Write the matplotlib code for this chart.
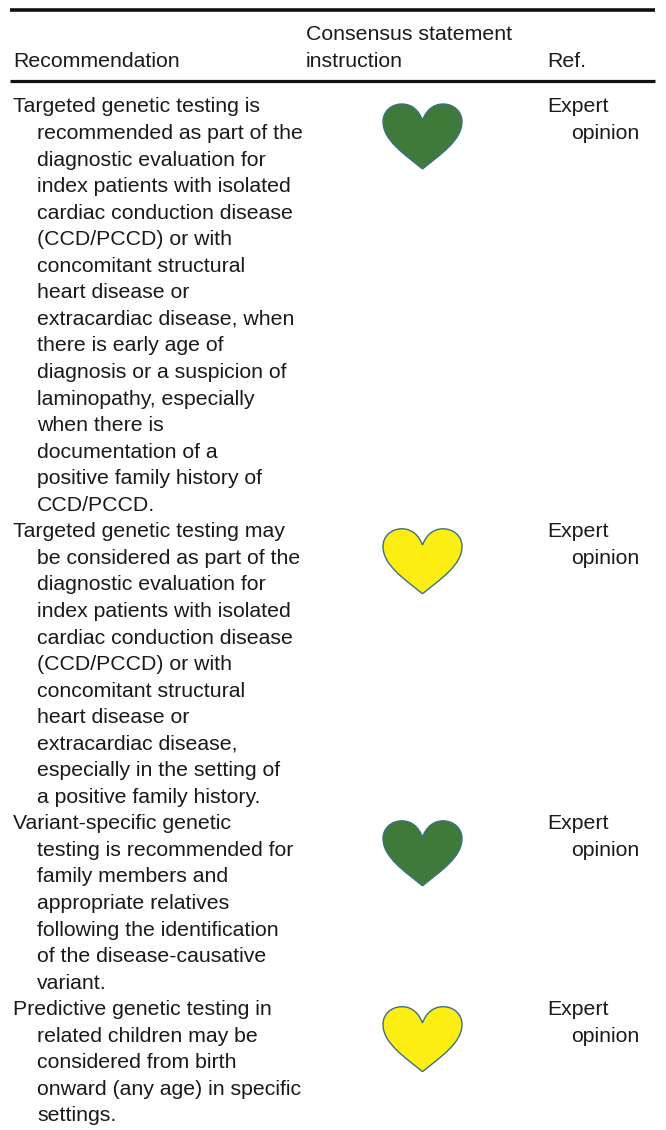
import matplotlib
matplotlib.use('Agg')
import matplotlib.pyplot as plt
from matplotlib.path import Path
from matplotlib.patches import PathPatch

plt.rcParams['font.family'] = ['Liberation Sans', 'DejaVu Sans']

headers = ['Recommendation', 'Consensus statement', 'instruction', 'Ref.']

row1 = ['Targeted genetic testing is', 'recommended as part of the', 'diagnostic evaluation for',
        'index patients with isolated', 'cardiac conduction disease', '(CCD/PCCD) or with',
        'concomitant structural', 'heart disease or', 'extracardiac disease, when',
        'there is early age of', 'diagnosis or a suspicion of', 'laminopathy, especially',
        'when there is', 'documentation of a', 'positive family history of', 'CCD/PCCD.']
row2 = ['Targeted genetic testing may', 'be considered as part of the', 'diagnostic evaluation for',
        'index patients with isolated', 'cardiac conduction disease', '(CCD/PCCD) or with',
        'concomitant structural', 'heart disease or', 'extracardiac disease,',
        'especially in the setting of', 'a positive family history.']
row3 = ['Variant-specific genetic', 'testing is recommended for', 'family members and',
        'appropriate relatives', 'following the identification', 'of the disease-causative',
        'variant.']
row4 = ['Predictive genetic testing in', 'related children may be', 'considered from birth',
        'onward (any age) in specific', 'settings.']
rows = [row1, row2, row3, row4]
hearts = ['#3f7a3a', '#fcee12', '#3f7a3a', '#fcee12']
refs = ['Expert', 'opinion']

# heart outline, unit box, y down
verts = [(0.5, 1.0), (0.27, 0.77), (0.0, 0.56), (0.0, 0.27),
         (0.0, 0.12), (0.1, 0.0), (0.24, 0.0),
         (0.36, 0.0), (0.45, 0.09), (0.5, 0.25),
         (0.55, 0.09), (0.64, 0.0), (0.76, 0.0),
         (0.9, 0.0), (1.0, 0.12), (1.0, 0.27),
         (1.0, 0.56), (0.73, 0.77), (0.5, 1.0)]
codes = [Path.MOVETO] + [Path.CURVE4] * 18

fs = 15.3
ink = '#1a1a1a'
pitch = 26.55
y0 = 112.5

fig = plt.figure(figsize=(6.66, 11.3), dpi=100)
ax = fig.add_axes([0, 0, 1, 1])
ax.set_xlim(0, 666)
ax.set_ylim(1130, 0)
ax.axis('off')

ax.plot([10, 655], [9.5, 9.5], color='#111111', lw=2.6, solid_capstyle='butt')
ax.plot([10, 655], [81, 81], color='#111111', lw=2.3, solid_capstyle='butt')

ax.text(13, 67, headers[0], fontsize=fs, color=ink, va='baseline')
ax.text(306, 40, headers[1], fontsize=fs, color=ink, va='baseline')
ax.text(306, 67, headers[2], fontsize=fs, color=ink, va='baseline')
ax.text(547, 67, headers[3], fontsize=fs, color=ink, va='baseline')

n = 0
for lines, col in zip(rows, hearts):
    top = y0 + n * pitch
    for i, s in enumerate(lines):
        ax.text(13 if i == 0 else 37, top + i * pitch, s, fontsize=fs, color=ink, va='baseline')
    ax.text(547, top, refs[0], fontsize=fs, color=ink, va='baseline')
    ax.text(571, top + pitch, refs[1], fontsize=fs, color=ink, va='baseline')
    pts = [(383 + 79 * x, top - 8.5 + 65 * y) for x, y in verts]
    ax.add_patch(PathPatch(Path(pts, codes), facecolor=col, edgecolor='#3d7088', lw=1.0))
    n += len(lines)

fig.savefig('out.png', dpi=100)
